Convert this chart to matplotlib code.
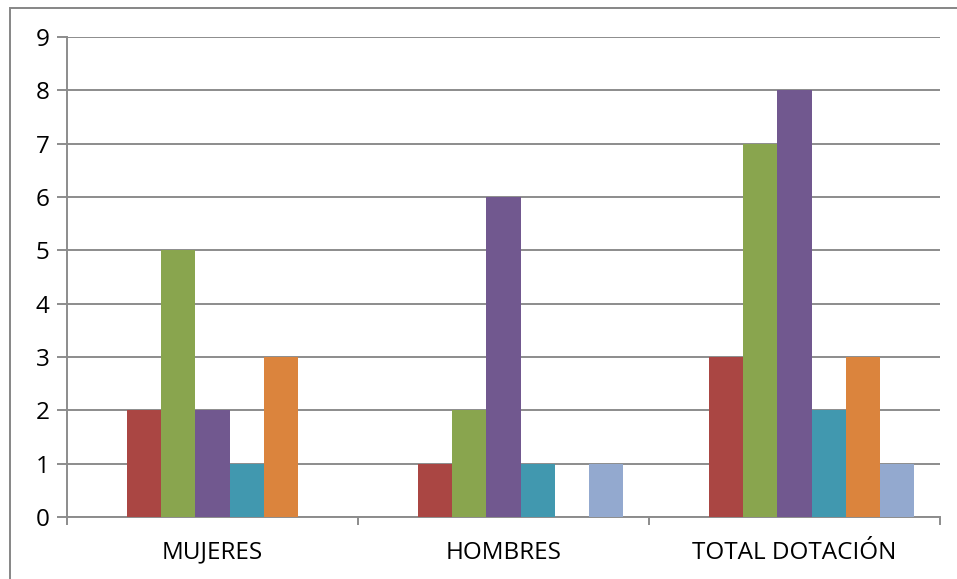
import matplotlib
matplotlib.use("Agg")
import matplotlib.pyplot as plt
from matplotlib.patches import Rectangle
import numpy as np

# ---- data ----------------------------------------------------------------------------
groups = ["MUJERES", "HOMBRES", "TOTAL DOTACIÓN"]
serie_0 = [0, 0, 0]
serie_1 = [2, 1, 3]
serie_2 = [5, 2, 7]
serie_3 = [2, 6, 8]
serie_4 = [1, 1, 2]
serie_5 = [3, 0, 3]
serie_6 = [0, 1, 1]
y_ticks = list(range(0, 10))

series = [serie_0, serie_1, serie_2, serie_3, serie_4, serie_5, serie_6]
colors = ["#4572A7", "#AA4643", "#89A54E", "#71588F", "#4198AF", "#DB843D", "#93A9CF"]

GRID = "#8c8c8c"
plt.rcParams["font.family"] = ["Open Sans", "DejaVu Sans"]

fig = plt.figure(figsize=(9.57, 5.79), dpi=100)
ax = fig.add_axes([0.0700, 0.1071, 0.9122, 0.8290])

# Excel-style cluster: 7 bars, 150% gap width
n = len(series)
width = 1.0 / (n + 1.5)
x = np.arange(len(groups))
for i, (vals, col) in enumerate(zip(series, colors)):
    offs = (i - (n - 1) / 2) * width
    ax.bar(x + offs, vals, width=width, color=col, linewidth=0, zorder=3)

ax.set_xlim(-0.5, len(groups) - 0.5)
ax.set_ylim(0, 9)
ax.set_yticks(y_ticks)
ax.yaxis.grid(True, color=GRID, linewidth=1.4, zorder=0)
ax.set_axisbelow(True)

# category boundaries as major ticks, names on minor ticks at the centres
ax.set_xticks(np.arange(-0.5, len(groups), 1.0))
ax.set_xticklabels([])
ax.set_xticks(x, minor=True)
ax.set_xticklabels(groups, minor=True)
ax.tick_params(axis="x", which="major", length=6, width=1.4, color=GRID, direction="out")
ax.tick_params(axis="x", which="minor", length=0, pad=17, labelsize=17.5)
ax.tick_params(axis="y", length=7.5, width=1.4, color=GRID, pad=5, labelsize=17.5)

for s in ("top", "right"):
    ax.spines[s].set_visible(False)
for s in ("left", "bottom"):
    ax.spines[s].set_color(GRID)
    ax.spines[s].set_linewidth(1.4)

# chart-area frame
fig.patches.append(Rectangle((10 / 957, -0.05), 1.2, 1 - 8 / 579 + 0.05,
                             transform=fig.transFigure, fill=False,
                             edgecolor="#868686", linewidth=1.4))

fig.savefig("out.png", dpi=100)
